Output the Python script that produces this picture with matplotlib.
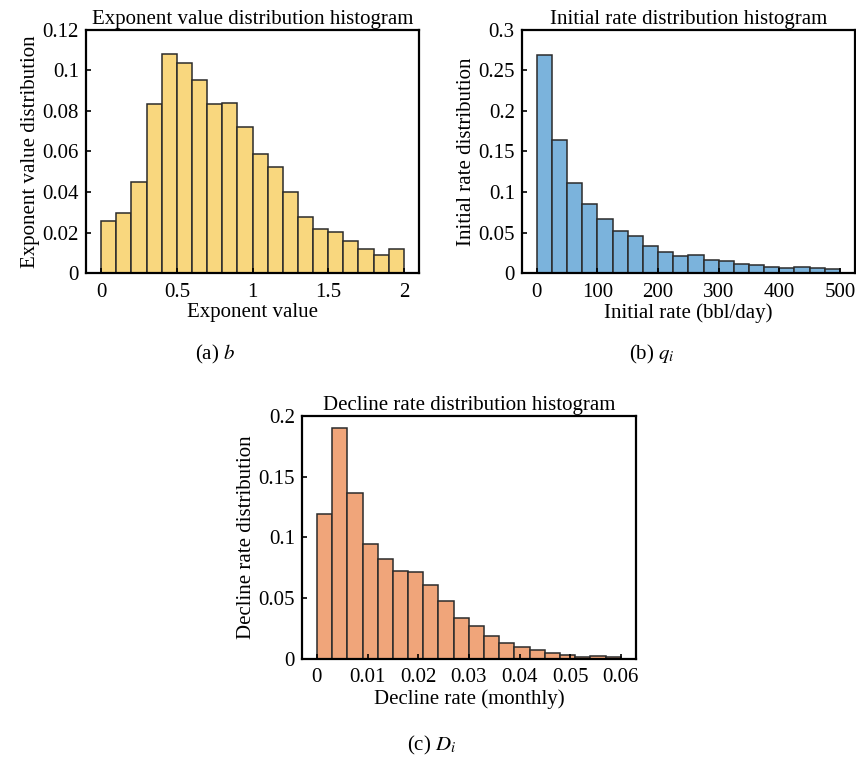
import numpy as np
import matplotlib
matplotlib.use('Agg')
import matplotlib.pyplot as plt

# histogram data (20 bins each)
b_edges = np.linspace(0, 2, 21)
b_values = [0.0255, 0.0296, 0.0447, 0.0833, 0.1083, 0.1037, 0.0952, 0.0835, 0.0838, 0.0720,
            0.0590, 0.0521, 0.0398, 0.0275, 0.0217, 0.0202, 0.0158, 0.0118, 0.0090, 0.0120]

q_edges = np.linspace(0, 500, 21)
q_values = [0.2692, 0.1636, 0.1110, 0.0847, 0.0666, 0.0518, 0.0456, 0.0329, 0.0255, 0.0205,
            0.0218, 0.0160, 0.0148, 0.0115, 0.0099, 0.0070, 0.0058, 0.0070, 0.0062, 0.0049]

d_edges = np.linspace(0, 0.06, 21)
d_values = [0.1195, 0.1898, 0.1368, 0.0945, 0.0824, 0.0723, 0.0717, 0.0610, 0.0473, 0.0332,
            0.0272, 0.0184, 0.0126, 0.0099, 0.0069, 0.0047, 0.0027, 0.0016, 0.0025, 0.0016]

b_xticks = [0, 0.5, 1, 1.5, 2]
b_xticklabels = ['0', '0.5', '1', '1.5', '2']
b_yticks = [0, 0.02, 0.04, 0.06, 0.08, 0.1, 0.12]
b_yticklabels = ['0', '0.02', '0.04', '0.06', '0.08', '0.1', '0.12']

q_xticks = [0, 100, 200, 300, 400, 500]
q_xticklabels = ['0', '100', '200', '300', '400', '500']
q_yticks = [0, 0.05, 0.1, 0.15, 0.2, 0.25, 0.3]
q_yticklabels = ['0', '0.05', '0.1', '0.15', '0.2', '0.25', '0.3']

d_xticks = [0, 0.01, 0.02, 0.03, 0.04, 0.05, 0.06]
d_xticklabels = ['0', '0.01', '0.02', '0.03', '0.04', '0.05', '0.06']
d_yticks = [0, 0.05, 0.1, 0.15, 0.2]
d_yticklabels = ['0', '0.05', '0.1', '0.15', '0.2']

plt.rcParams['font.family'] = ['Liberation Serif', 'DejaVu Serif']
plt.rcParams['mathtext.fontset'] = 'stix'
FS = 15


def draw_hist(ax, edges, values, color, xlim, ylim, xticks, xticklabels,
              yticks, yticklabels, title, xlabel, ylabel):
    """ Draws one histogram panel from bin edges and bar heights. """
    widths = np.diff(edges)
    ax.bar(edges[:-1], values, width=widths, align='edge', color=color,
           edgecolor='#2b2b2b', linewidth=1.1)
    ax.set_xlim(xlim)
    ax.set_ylim(ylim)
    ax.set_xticks(xticks)
    ax.set_xticklabels(xticklabels)
    ax.set_yticks(yticks)
    ax.set_yticklabels(yticklabels)
    ax.tick_params(direction='in', length=3.5, width=1.2, labelsize=FS,
                   top=False, right=False)
    ax.tick_params(axis='x', pad=7)
    ax.tick_params(axis='y', pad=5)
    for sp in ax.spines.values():
        sp.set_linewidth(1.6)
    ax.set_title(title, fontsize=FS, pad=4)
    ax.set_xlabel(xlabel, fontsize=FS, labelpad=1)
    ax.set_ylabel(ylabel, fontsize=FS, labelpad=2)


fig = plt.figure(figsize=(8.56, 7.59), dpi=100)

ax_a = fig.add_axes([0.1005, 0.6403, 0.389, 0.3202])
draw_hist(ax_a, b_edges, b_values, '#F9D77E', (-0.1, 2.1), (0, 0.12),
          b_xticks, b_xticklabels, b_yticks, b_yticklabels,
          'Exponent value distribution histogram', 'Exponent value',
          'Exponent value distribution')

ax_b = fig.add_axes([0.6095, 0.6403, 0.3894, 0.3202])
draw_hist(ax_b, q_edges, q_values, '#7BB3DC', (-25, 525), (0, 0.3),
          q_xticks, q_xticklabels, q_yticks, q_yticklabels,
          'Initial rate distribution histogram', 'Initial rate (bbl/day)',
          'Initial rate distribution')

ax_c = fig.add_axes([0.3525, 0.1322, 0.3905, 0.3197])
draw_hist(ax_c, d_edges, d_values, '#F0A57A', (-0.003, 0.063), (0, 0.2),
          d_xticks, d_xticklabels, d_yticks, d_yticklabels,
          'Decline rate distribution histogram', 'Decline rate (monthly)',
          'Decline rate distribution')

# panel captions
fig.text(215 / 856, 1 - 354 / 759, '(a) $b$', ha='center', va='center', fontsize=FS)
fig.text(652 / 856, 1 - 354 / 759, '(b) $q_i$', ha='center', va='center', fontsize=FS)
fig.text(432 / 856, 1 - 745 / 759, '(c) $D_i$', ha='center', va='center', fontsize=FS)

fig.savefig('out.png', dpi=100)
